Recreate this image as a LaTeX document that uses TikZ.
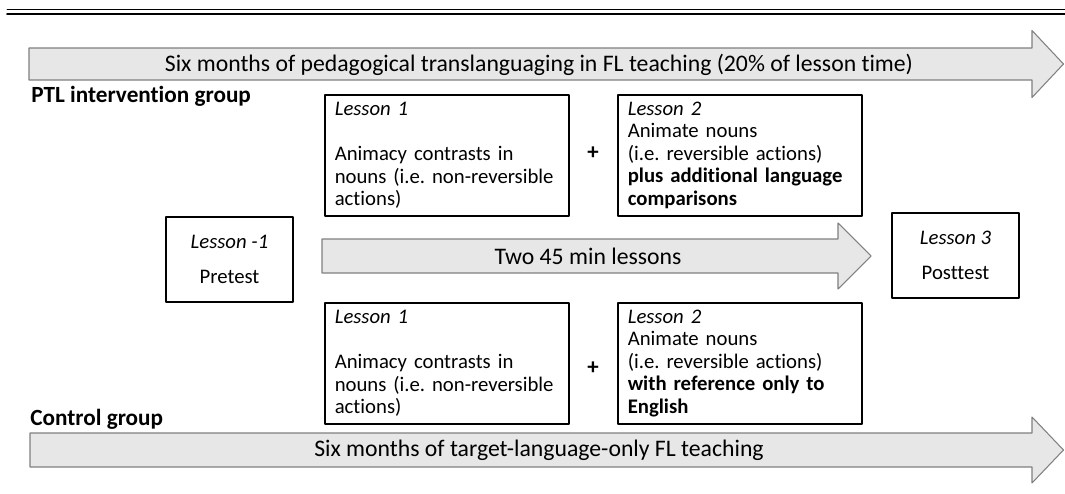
\documentclass[tikz,border=0pt]{standalone}
\usepackage{fontspec}
\setmainfont{Carlito}[Ligatures={NoCommon}]
\usepackage{tikz}
\usetikzlibrary{arrows}
\definecolor{arrowfill}{RGB}{231,231,231}
\definecolor{arrowline}{RGB}{128,128,128}
\frenchspacing

\begin{document}
\begin{tikzpicture}[line cap=round,line join=round,x=1.0cm,y=1.0cm,
    lessonbox/.style={draw=black,line width=0.9pt,minimum width=4.88cm,minimum height=2.42cm,text width=4.48cm,inner xsep=0.2cm,inner ysep=0pt,align=left,font=\fontsize{11.8}{12.8}\selectfont},
    testbox/.style={draw=black,line width=0.9pt,minimum width=2.54cm,minimum height=1.70cm,align=center,font=\fontsize{11.8}{12.8}\selectfont},
    blockarrow/.style={draw=arrowline,fill=arrowfill,line width=0.6pt},
    arrowtext/.style={font=\fontsize{13.5}{15}\selectfont},
    grouplabel/.style={anchor=base west,inner sep=0pt,font=\fontsize{13.2}{15}\selectfont\bfseries}]
        \clip(0,0) rectangle (21.3,9.86);
        % header rule
        \draw [line width=0.45pt] (0.14,9.68) -- (21.3,9.68);
        \draw [line width=0.9pt] (0.14,9.58) -- (21.3,9.58);
        % big arrows
        \draw [blockarrow] (0.58,8.90) -- (20.64,8.90) -- (20.64,9.25) -- (21.27,8.58) -- (20.64,7.91) -- (20.64,8.26) -- (0.58,8.26) -- cycle;
        \draw [blockarrow] (6.44,5.08) -- (16.76,5.08) -- (16.76,5.40) -- (17.42,4.74) -- (16.76,4.08) -- (16.76,4.40) -- (6.44,4.40) -- cycle;
        \draw [blockarrow] (0.60,1.20) -- (20.64,1.20) -- (20.64,1.52) -- (21.27,0.86) -- (20.64,0.20) -- (20.64,0.52) -- (0.60,0.52) -- cycle;
        \draw (10.78,8.56) node[arrowtext] (ptlmonths) {Six months of pedagogical translanguaging in FL teaching (20\% of lesson time)};
        \draw (11.76,4.74) node[arrowtext] (twolessons) {Two 45 min lessons};
        \draw (10.78,0.86) node[arrowtext] (ctlmonths) {Six months of target-language-only FL teaching};
        % group labels
        \draw (0.62,7.82) node[grouplabel] (ptlgroup) {PTL intervention group};
        \draw (0.60,1.36) node[grouplabel] (ctlgroup) {Control group};
        % tests
        \draw (4.59,4.67) node[testbox] (pretest) {\textit{Lesson -1}\\[7pt]Pretest};
        \draw (19.11,4.75) node[testbox] (posttest) {\textit{Lesson 3}\\[7pt]Posttest};
        % lessons
        \draw (6.48,7.98) node[lessonbox,anchor=north west] (ptlone) {\textit{Lesson 1}\\\mbox{}\\Animacy contrasts in\\nouns (i.e. non-reversible\\actions)};
        \draw (12.34,7.98) node[lessonbox,anchor=north west] (ptltwo) {\textit{Lesson 2}\\Animate nouns\\(i.e. reversible actions)\\\textbf{plus additional language}\\\textbf{comparisons}};
        \draw (6.48,3.82) node[lessonbox,anchor=north west] (ctlone) {\textit{Lesson 1}\\\mbox{}\\Animacy contrasts in\\nouns (i.e. non-reversible\\actions)};
        \draw (12.34,3.82) node[lessonbox,anchor=north west] (ctltwo) {\textit{Lesson 2}\\Animate nouns\\(i.e. reversible actions)\\\textbf{with reference only to}\\\textbf{English}};
        \draw (11.86,6.80) node[font=\fontsize{13}{15}\selectfont\bfseries] (ptlplus) {+};
        \draw (11.86,2.50) node[font=\fontsize{13}{15}\selectfont\bfseries] (ctlplus) {+};
    \end{tikzpicture}
\end{document}
